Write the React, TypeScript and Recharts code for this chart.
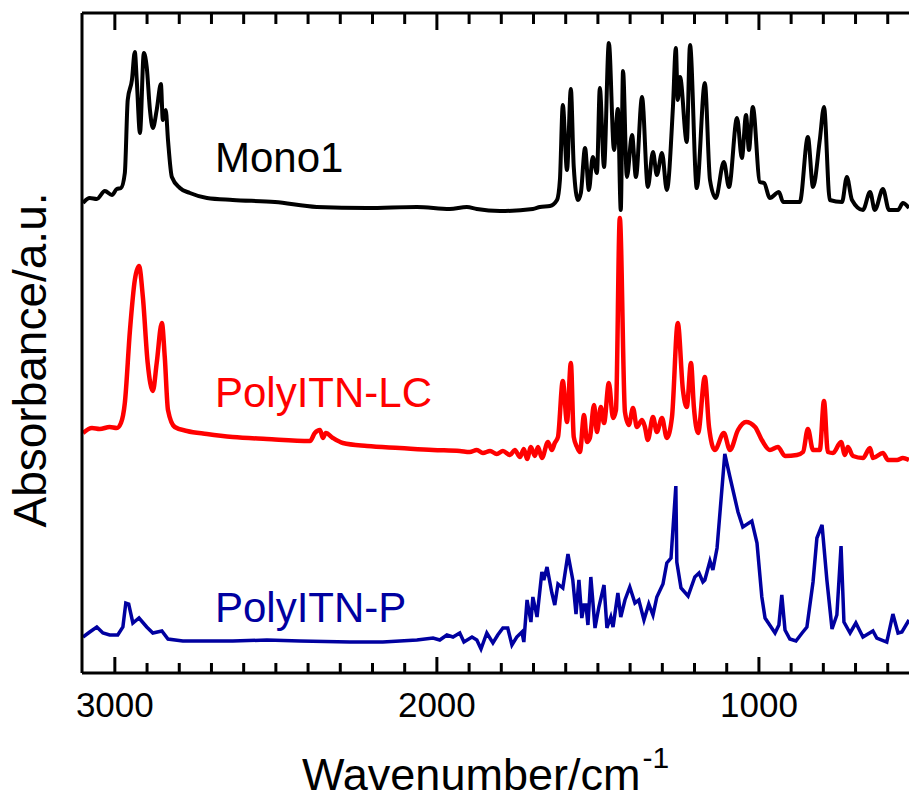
import { LineChart, Line, XAxis, YAxis } from 'recharts';

// [wavenumber (cm-1), absorbance (a.u., traces already offset)]
const mono1: [number, number][] = [
  [3099, 4.7], [3078, 4.75], [3056, 4.74], [3031, 4.82], [3009, 4.78], [2994, 4.84], [2981, 4.85],
  [2969, 5.0], [2960, 5.73], [2947, 5.93], [2938, 6.21], [2932, 5.93], [2922, 5.4], [2910, 6.2],
  [2901, 6.06], [2891, 5.63], [2882, 5.45], [2870, 5.63], [2857, 5.89], [2851, 5.53], [2842, 5.63],
  [2835, 5.33], [2823, 4.96], [2798, 4.85], [2767, 4.8], [2714, 4.75], [2634, 4.73], [2503, 4.71],
  [2373, 4.66], [2217, 4.65], [2062, 4.66], [1960, 4.64], [1907, 4.66], [1876, 4.64], [1804, 4.62],
  [1702, 4.64], [1680, 4.66], [1649, 4.67], [1627, 4.73], [1618, 4.93], [1609, 5.68], [1596, 5.03],
  [1584, 5.84], [1575, 5.06], [1562, 4.73], [1553, 4.8], [1540, 5.25], [1528, 4.83], [1516, 5.16],
  [1503, 5.0], [1494, 5.85], [1481, 5.06], [1466, 6.3], [1450, 5.23], [1438, 5.64], [1429, 4.63],
  [1422, 6.02], [1410, 4.96], [1394, 5.38], [1382, 4.96], [1363, 5.76], [1345, 4.86], [1329, 5.21],
  [1317, 4.98], [1301, 5.2], [1286, 4.83], [1267, 5.66], [1258, 6.25], [1252, 5.73], [1245, 5.96],
  [1224, 5.31], [1214, 6.28], [1193, 4.85], [1168, 5.9], [1152, 4.93], [1134, 4.75], [1109, 5.11],
  [1093, 4.86], [1068, 5.55], [1053, 5.15], [1040, 5.58], [1031, 5.23], [1019, 5.66], [997, 4.91],
  [984, 4.9], [966, 4.75], [938, 4.81], [925, 4.71], [873, 4.71], [848, 5.36], [832, 4.86],
  [811, 5.33], [798, 5.66], [780, 4.73], [742, 4.71], [727, 4.96], [711, 4.73], [677, 4.63],
  [655, 4.81], [640, 4.63], [615, 4.84], [596, 4.63], [568, 4.63], [553, 4.7], [534, 4.65],
];

const polyLC: [number, number][] = [
  [3099, 2.4], [3071, 2.45], [3047, 2.44], [3016, 2.46], [2994, 2.45], [2981, 2.5], [2969, 2.7],
  [2953, 3.43], [2938, 3.93], [2925, 4.07], [2913, 3.76], [2898, 3.1], [2882, 2.82], [2870, 3.1],
  [2854, 3.5], [2845, 3.16], [2835, 2.63], [2814, 2.46], [2776, 2.42], [2714, 2.39], [2634, 2.36],
  [2528, 2.34], [2394, 2.32], [2379, 2.4], [2363, 2.43], [2354, 2.35], [2345, 2.4], [2323, 2.35],
  [2292, 2.3], [2217, 2.27], [2115, 2.25], [2012, 2.23], [1929, 2.22], [1898, 2.21], [1876, 2.23],
  [1857, 2.2], [1835, 2.22], [1814, 2.19], [1795, 2.22], [1773, 2.18], [1758, 2.23], [1742, 2.16],
  [1730, 2.24], [1720, 2.14], [1708, 2.26], [1696, 2.17], [1686, 2.26], [1674, 2.15], [1655, 2.31],
  [1643, 2.23], [1634, 2.3], [1624, 2.36], [1609, 2.92], [1596, 2.51], [1584, 3.1], [1575, 2.36],
  [1565, 2.26], [1556, 2.21], [1543, 2.58], [1534, 2.31], [1525, 2.35], [1512, 2.68], [1503, 2.41],
  [1491, 2.66], [1481, 2.5], [1466, 2.9], [1453, 2.55], [1444, 2.63], [1432, 4.55], [1416, 2.61],
  [1404, 2.48], [1391, 2.65], [1379, 2.46], [1363, 2.53], [1354, 2.46], [1345, 2.33], [1329, 2.56],
  [1317, 2.41], [1301, 2.55], [1286, 2.35], [1270, 2.56], [1252, 3.5], [1236, 2.83], [1224, 2.66],
  [1211, 3.1], [1202, 2.66], [1189, 2.4], [1168, 2.96], [1155, 2.46], [1137, 2.23], [1109, 2.4],
  [1090, 2.23], [1065, 2.43], [1040, 2.51], [1012, 2.46], [991, 2.33], [966, 2.23], [941, 2.26],
  [919, 2.17], [882, 2.18], [863, 2.21], [848, 2.44], [832, 2.23], [811, 2.23], [798, 2.72],
  [786, 2.21], [770, 2.2], [745, 2.31], [733, 2.18], [724, 2.26], [708, 2.17], [677, 2.15],
  [655, 2.25], [646, 2.15], [615, 2.2], [599, 2.13], [571, 2.13], [553, 2.15], [534, 2.13],
];

const polyP: [number, number][] = [
  [3099, 0.36], [3078, 0.41], [3056, 0.46], [3037, 0.4], [3016, 0.38], [2991, 0.38], [2975, 0.46],
  [2966, 0.7], [2957, 0.69], [2944, 0.5], [2925, 0.55], [2901, 0.46], [2882, 0.4], [2854, 0.42],
  [2835, 0.34], [2789, 0.32], [2634, 0.32], [2528, 0.33], [2425, 0.32], [2270, 0.31], [2168, 0.31],
  [2062, 0.33], [2012, 0.35], [1991, 0.33], [1969, 0.38], [1950, 0.36], [1929, 0.4], [1916, 0.31],
  [1891, 0.36], [1876, 0.33], [1863, 0.24], [1845, 0.4], [1826, 0.3], [1811, 0.38], [1795, 0.45],
  [1780, 0.45], [1767, 0.28], [1752, 0.36], [1736, 0.41], [1730, 0.31], [1720, 0.73], [1708, 0.51],
  [1702, 0.76], [1689, 0.56], [1674, 1.01], [1668, 0.93], [1658, 1.06], [1643, 0.8], [1634, 0.68],
  [1624, 0.89], [1609, 0.85], [1593, 1.19], [1578, 0.93], [1568, 0.59], [1559, 0.93], [1550, 0.55],
  [1543, 0.68], [1537, 0.68], [1531, 0.48], [1522, 0.96], [1509, 0.45], [1497, 0.66], [1481, 0.88],
  [1472, 0.45], [1460, 0.56], [1453, 0.46], [1438, 0.8], [1429, 0.56], [1416, 0.73], [1401, 0.86],
  [1385, 0.7], [1373, 0.73], [1357, 0.53], [1342, 0.69], [1329, 0.58], [1317, 0.76], [1298, 0.89],
  [1286, 1.1], [1273, 1.15], [1258, 1.87], [1255, 1.11], [1242, 0.85], [1220, 0.77], [1199, 0.96],
  [1186, 1.0], [1174, 0.91], [1168, 0.93], [1152, 1.12], [1143, 1.03], [1130, 1.25], [1106, 2.19],
  [1090, 1.96], [1065, 1.61], [1050, 1.46], [1022, 1.52], [1006, 1.3], [991, 0.76], [981, 0.55],
  [950, 0.4], [938, 0.48], [929, 0.78], [919, 0.43], [904, 0.34], [885, 0.32], [866, 0.4],
  [851, 0.46], [832, 0.91], [820, 1.35], [804, 1.48], [789, 0.93], [773, 0.44], [758, 0.58],
  [745, 1.27], [736, 0.51], [717, 0.4], [699, 0.5], [677, 0.36], [646, 0.42], [634, 0.35],
  [603, 0.31], [584, 0.59], [568, 0.4], [556, 0.41], [534, 0.53],
];

const xTicks = [3000, 2900, 2800, 2700, 2600, 2500, 2400, 2300, 2200, 2100, 2000, 1900, 1800, 1700,
  1600, 1500, 1400, 1300, 1200, 1100, 1000, 900, 800, 700, 600];
const majorTicks = [3000, 2000, 1000];

const FONT = "'Liberation Sans', Arial, sans-serif";

const toRows = (pts: [number, number][]) => pts.map(([wn, a]) => ({ wn, a }));

const BottomTick = ({ x, y, payload }: any) => {
  const major = majorTicks.includes(payload.value);
  return (
    <g>
      <line x1={x} x2={x} y1={y} y2={y - (major ? 16 : 10)} stroke="#000" strokeWidth={3} />
      {major && (
        <text x={x} y={y + 44} textAnchor="middle" fontSize={35} fontFamily={FONT} fill="#000">
          {payload.value}
        </text>
      )}
    </g>
  );
};

const TopTick = ({ x, y, payload }: any) => {
  const major = majorTicks.includes(payload.value);
  return <line x1={x} x2={x} y1={y} y2={y + (major ? 17 : 11)} stroke="#000" strokeWidth={3} />;
};

export default function App() {
  return (
    <div style={{ position: 'absolute', left: 0, top: 0, width: 909, height: 802, background: '#fff' }}>
      <LineChart width={909} height={802} margin={{ top: 0, right: 0, bottom: 0, left: 0 }}>
        <XAxis
          type="number"
          dataKey="wn"
          domain={[534, 3102]}
          reversed
          allowDataOverflow
          ticks={xTicks}
          interval={0}
          height={129}
          tickSize={0}
          tickMargin={0}
          tickLine={false}
          tick={<BottomTick />}
          axisLine={{ stroke: '#000', strokeWidth: 3 }}
        />
        <XAxis
          xAxisId="top"
          orientation="top"
          type="number"
          dataKey="wn"
          domain={[534, 3102]}
          reversed
          allowDataOverflow
          ticks={xTicks}
          interval={0}
          height={13}
          tickSize={0}
          tickMargin={0}
          tickLine={false}
          tick={<TopTick />}
          axisLine={{ stroke: '#000', strokeWidth: 3 }}
        />
        <YAxis
          type="number"
          domain={[0, 6.6]}
          allowDataOverflow
          width={82}
          tick={false}
          tickLine={false}
          axisLine={{ stroke: '#000', strokeWidth: 3 }}
        />
        <Line data={toRows(mono1)} dataKey="a" type="monotone" stroke="#000000" strokeWidth={4}
          dot={false} isAnimationActive={false} />
        <Line data={toRows(polyLC)} dataKey="a" type="monotone" stroke="#ff0000" strokeWidth={4.5}
          dot={false} isAnimationActive={false} />
        <Line data={toRows(polyP)} dataKey="a" type="linear" stroke="#0000a0" strokeWidth={3.5}
          dot={false} isAnimationActive={false} />
      </LineChart>

      <svg width={909} height={802} style={{ position: 'absolute', left: 0, top: 0, pointerEvents: 'none' }}>
        <g fontFamily={FONT}>
          <text x={215} y={172} fontSize={42} fill="#000">Mono1</text>
          <text x={215} y={407} fontSize={42} fill="#ff0000">PolyITN-LC</text>
          <text x={215} y={622} fontSize={42} fill="#0000a0">PolyITN-P</text>
          <text x={46} y={360} fontSize={46} fill="#000" textAnchor="middle" transform="rotate(-90, 46, 360)">
            Absorbance/a.u.
          </text>
          <text x={302} y={790} fontSize={45} fill="#000">
            Wavenumber/cm
            <tspan fontSize={30} dx={2} dy={-22}>-1</tspan>
          </text>
        </g>
      </svg>
    </div>
  );
}
